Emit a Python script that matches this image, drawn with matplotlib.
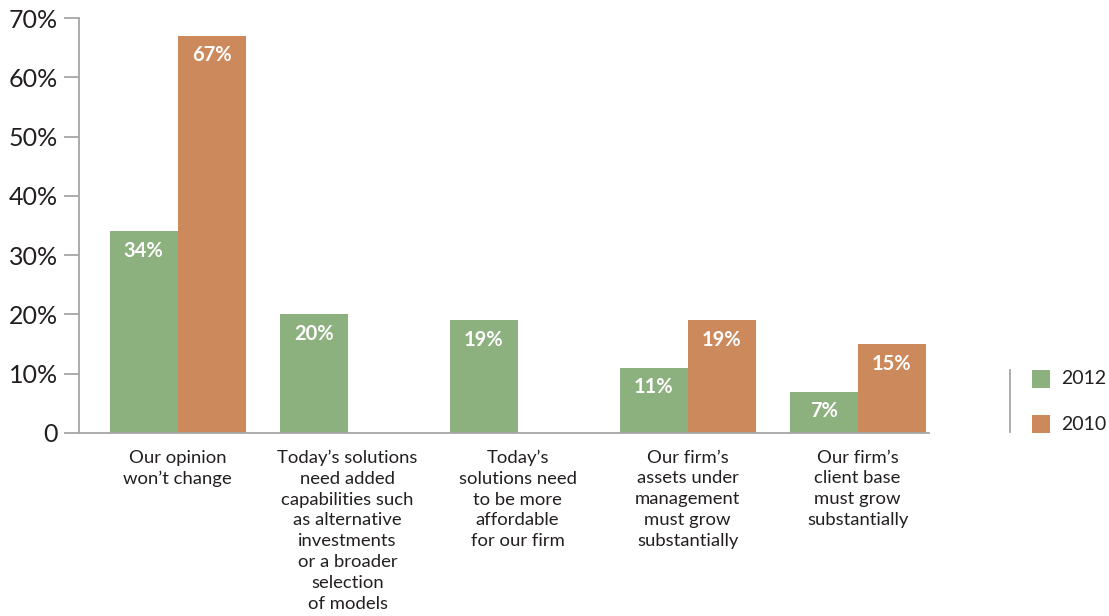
import numpy as np
import matplotlib
matplotlib.use("Agg")
import matplotlib.pyplot as plt
from matplotlib.patches import Rectangle
from matplotlib.lines import Line2D

categories = [
    "Our opinion\nwon\u2019t change",
    "Today\u2019s solutions\nneed added\ncapabilities such\nas alternative\ninvestments\nor a broader\nselection\nof models",
    "Today\u2019s\nsolutions need\nto be more\naffordable\nfor our firm",
    "Our firm\u2019s\nassets under\nmanagement\nmust grow\nsubstantially",
    "Our firm\u2019s\nclient base\nmust grow\nsubstantially",
]
series_names = ["2012", "2010"]
vals_2012 = [34, 20, 19, 11, 7]
vals_2010 = [67, None, None, 19, 15]
yticks = [0, 10, 20, 30, 40, 50, 60, 70]
ytick_labels = ["0", "10%", "20%", "30%", "40%", "50%", "60%", "70%"]

green = "#8db07f"
orange = "#cc8a5c"
grey = "#a6a6a6"
txt = "#231f20"

plt.rcParams["font.family"] = ["Lato", "DejaVu Sans"]

fig = plt.figure(figsize=(11.09, 6.16), dpi=100)
ax = fig.add_axes([79 / 1109, (616 - 433) / 616, 850 / 1109, 415 / 616])

x = np.arange(len(categories))
w = 0.4
for vals, off, col in [(vals_2012, -w / 2, green), (vals_2010, w / 2, orange)]:
    for xi, v in zip(x, vals):
        if v is None:
            continue
        ax.bar(xi + off, v, width=w, color=col, linewidth=0)
        ax.text(xi + off, v - 1.6, f"{v}%", ha="center", va="top",
                color="white", fontsize=14.5, fontweight="bold")

ax.set_xlim(-0.58, 4.42)
ax.set_ylim(0, 70)
ax.set_yticks(yticks)
ax.set_yticklabels(ytick_labels, fontsize=18, color=txt)
ax.set_xticks(x)
ax.set_xticklabels(categories, fontsize=13.3, color=txt, linespacing=1.37, va="top")
ax.tick_params(axis="x", length=0, pad=12)
ax.tick_params(axis="y", length=11, width=1.3, color=grey, pad=4)
for s in ["top", "right"]:
    ax.spines[s].set_visible(False)
for s in ["left", "bottom"]:
    ax.spines[s].set_color(grey)
    ax.spines[s].set_linewidth(1.3)

# legend at the lower right, with a rule to its left
fig.add_artist(Line2D([1010 / 1109, 1010 / 1109], [(616 - 432) / 616, (616 - 370) / 616],
                      color=grey, linewidth=1.3))
for i, (name, col) in enumerate(zip(series_names, [green, orange])):
    ytop = 370 + i * 45
    fig.add_artist(Rectangle((1032 / 1109, (616 - ytop - 18) / 616), 18 / 1109, 18 / 616,
                             facecolor=col, edgecolor="none", transform=fig.transFigure))
    fig.text(1061 / 1109, (616 - ytop - 9) / 616, name, fontsize=14, color=txt,
             va="center", ha="left")

fig.savefig("out.png", dpi=100)
